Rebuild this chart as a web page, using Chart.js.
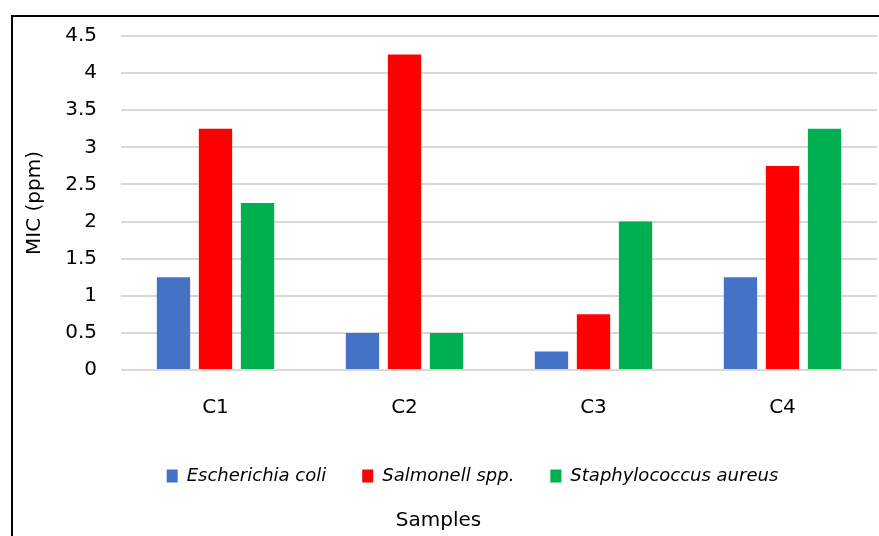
<!DOCTYPE html>
<html>
<head>
<meta charset="utf-8">
<title>MIC (ppm) by sample</title>
<script src="https://cdn.jsdelivr.net/npm/chart.js@4/dist/chart.umd.min.js"></script>
<style>
  html, body { margin: 0; padding: 0; background: #ffffff; overflow: hidden; }
  #wrap { position: relative; width: 879px; height: 536px; }
  #frame {
    position: absolute; left: 11px; top: 15px; width: 900px; height: 600px;
    border-left: 2px solid #000; border-top: 2px solid #000; box-sizing: border-box;
  }
  #chart { position: absolute; left: 0; top: 0; }
</style>
</head>
<body>
<div id="wrap">
  <div id="frame"></div>
  <canvas id="chart" width="879" height="536"></canvas>
</div>
<script>
// Samples on the x axis
const categories = ['C1', 'C2', 'C3', 'C4'];

// Minimum inhibitory concentration per organism (ppm)
const seriesNames = ['Escherichia coli', 'Salmonell spp.', 'Staphylococcus aureus'];
const eColi = [1.25, 0.5, 0.25, 1.25];
const salmonella = [3.25, 4.25, 0.75, 2.75];
const staphAureus = [2.25, 0.5, 2.0, 3.25];

// Value axis range
const yMin = 0;
const yMax = 4.5;
const yStep = 0.5;

const colors = ['#4472C4', '#FF0000', '#00B050'];
const FONT = "'DejaVu Sans', Verdana, sans-serif";

Chart.defaults.font.family = FONT;
Chart.defaults.color = '#000000';

// Centres the legend row under the middle of the outer frame
const legendOffset = {
  id: 'legendOffset',
  afterLayout(chart, args, opts) {
    const lg = chart.legend;
    if (lg) { lg.left += opts.dx; lg.right += opts.dx; }
  }
};

new Chart(document.getElementById('chart'), {
  type: 'bar',
  data: {
    labels: categories,
    datasets: [eColi, salmonella, staphAureus].map((values, i) => ({
      label: seriesNames[i],
      data: values,
      backgroundColor: colors[i],
      borderWidth: 0,
      categoryPercentage: 0.667,
      barPercentage: 0.793
    }))
  },
  options: {
    responsive: false,
    animation: false,
    devicePixelRatio: 1,
    layout: { padding: { top: 33, right: 2, bottom: 0, left: 0 } },
    scales: {
      x: {
        grid: { display: false, drawTicks: false },
        border: { display: false },
        ticks: { font: { size: 20 }, color: '#000', padding: 26 },
        afterFit(scale) { scale.height = 61; }
      },
      y: {
        min: yMin,
        max: yMax,
        grid: { color: '#d9d9d9', lineWidth: 2, drawTicks: false },
        border: { display: false },
        ticks: {
          stepSize: yStep,
          font: { size: 20 },
          color: '#000',
          padding: 24,
          // plain numbers: 4, 3.5, 3 ...
          callback: (v) => String(parseFloat(Number(v).toFixed(2)))
        },
        title: {
          display: true,
          text: 'MIC (ppm)',
          font: { size: 20 },
          color: '#000',
          padding: { top: 23, bottom: 0 }
        },
        afterFit(scale) { scale.width = 121; }
      }
    },
    plugins: {
      legend: {
        position: 'bottom',
        maxHeight: 54,
        labels: {
          font: { size: 18, style: 'italic' },
          color: '#000',
          boxWidth: 11,
          boxHeight: 13,
          padding: 36
        }
      },
      title: {
        display: true,
        position: 'bottom',
        text: 'Samples',
        font: { size: 20, weight: 'normal' },
        color: '#000',
        padding: { top: 24, bottom: 3 }
      },
      tooltip: { enabled: false },
      legendOffset: { dx: 34 }
    }
  },
  plugins: [legendOffset]
});
</script>
</body>
</html>
